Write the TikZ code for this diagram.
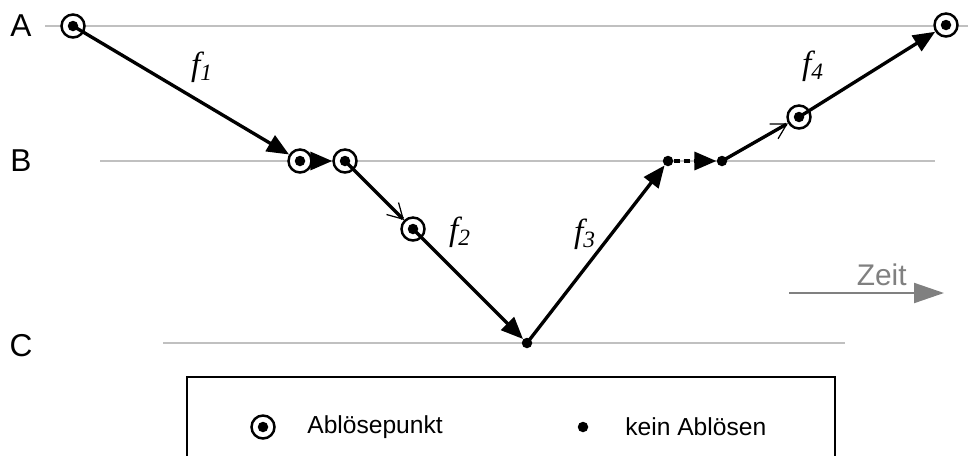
\documentclass[tikz,border=0pt]{standalone}
\usepackage{fontspec}
\setmainfont{Liberation Sans}
\newfontfamily\timesfont{Liberation Serif}
\usetikzlibrary{arrows.meta, positioning}
\definecolor{levelgray}{RGB}{192, 192, 192}
\definecolor{zeitgray}{RGB}{128, 128, 128}

\begin{document}
\begin{tikzpicture}[x=0.2mm, y=-0.2mm,
  levelline/.style={draw=levelgray, line width=1.1pt},
  levellabel/.style={font=\fontsize{18}{21}\selectfont},
  abloese/.style={
    circle, draw, fill=white, line width=1.4pt,
    minimum size=4.6mm, inner sep=0pt,
    path picture={\fill[black] (path picture bounding box.center) circle (1.05mm);}
  },
  kein/.style={circle, fill, minimum size=2.1mm, inner sep=0pt},
  flow/.style={line width=1.9pt, -{Triangle[length=4.4mm, width=3.6mm]}},
  hop/.style={flow, dash pattern=on 1.2mm off 0.8mm},
  pass/.style={line width=1.9pt,
    -{Straight Barb[length=3mm, width=3.4mm, line width=0.7pt]}},
  flabel/.style={font=\fontsize{19}{22}\timesfont\itshape},
  legtext/.style={font=\fontsize{14}{17}\selectfont, anchor=west, inner sep=0pt},
]
\useasboundingbox (0,0) rectangle (968,455);
\clip (0,0) rectangle (968,455);

%% levels
\draw[levelline] (45,26) -- (968,26);
\draw[levelline] (100,161) -- (935,161);
\draw[levelline] (163,343) -- (845,343);

\node[levellabel] (la) at (21,26) {A};
\node[levellabel] (lb) at (21,161) {B};
\node[levellabel] (lc) at (21,346) {C};

%% points
\node[abloese] (a1) at (73,26) {};
\node[abloese] (b1) at (300,161) {};
\node[abloese] (b2) at (345,161) {};
\node[abloese] (p)  at (413,229) {};
\node[kein]    (c1) at (527,343) {};
\node[kein]    (b3) at (668,161) {};
\node[kein]    (b4) at (722,161) {};
\node[abloese] (q)  at (799,117) {};
\node[abloese] (a2) at (946,25) {};

%% path
\draw[flow] (a1.center) -- (b1);
\draw[hop]  (b1) -- (b2);
\draw[pass] (b2.center) -- (p);
\draw[flow] (p.center) -- (c1);
\draw[flow] (c1.center) -- (b3);
\draw[hop]  (b3) -- (b4);
\draw[pass] (b4.center) -- (q);
\draw[flow] (q.center) -- (a2);

\node[flabel] (f1) at (202,67)  {f\textsubscript{1}};
\node[flabel] (f2) at (460,232) {f\textsubscript{2}};
\node[flabel] (f3) at (585,234) {f\textsubscript{3}};
\node[flabel] (f4) at (813,66)  {f\textsubscript{4}};

%% time axis
\coordinate (zeitanf) at (789,293);
\coordinate (zeitend) at (944,293);
\draw[zeitgray, line width=1.2pt, -{Triangle[length=6mm, width=4mm]}]
  (zeitanf) -- (zeitend);
\node[anchor=base east, inner sep=0pt, text=zeitgray,
      font=\fontsize{17}{20}\selectfont] (zeit) at (907,285) {Zeit};

%% legend
\draw[line width=1.1pt] (187,470) -- (187,377) -- (835,377) -- (835,470);
\node[abloese] (legabl) at (263,427) {};
\node[legtext] (legabltxt) at (307,427) {Ablösepunkt};
\node[kein] (legkein) at (583,427) {};
\node[legtext] (legkeintxt) at (625,427) {kein Ablösen};

\end{tikzpicture}
\end{document}
